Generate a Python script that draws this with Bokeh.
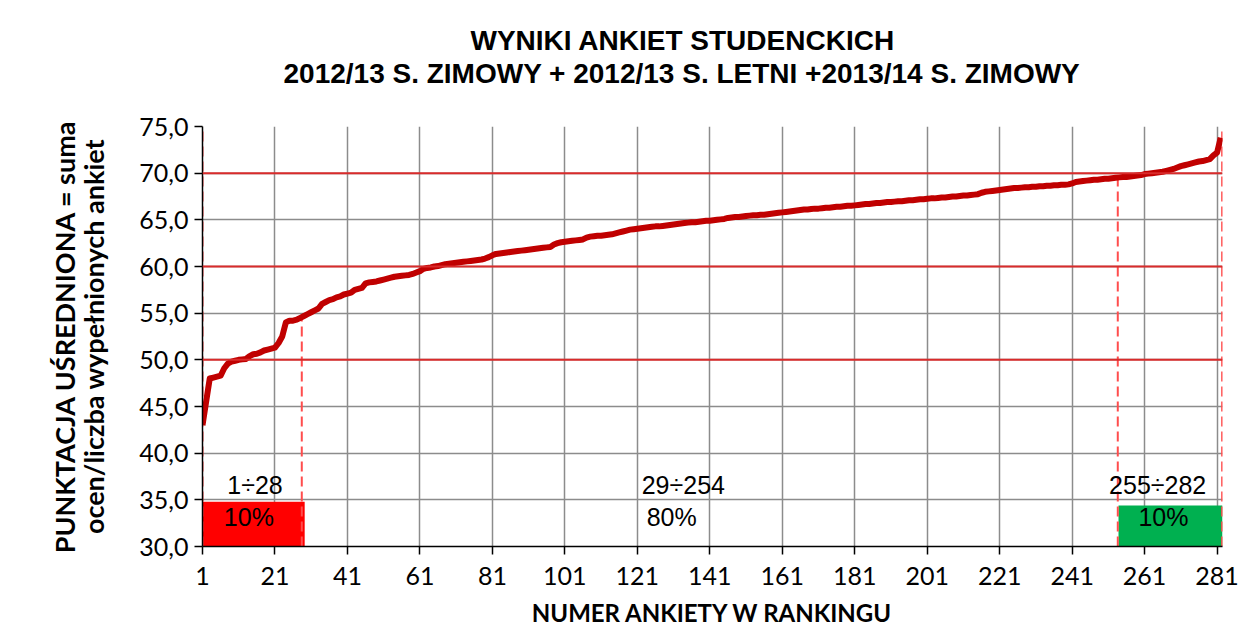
from bokeh.plotting import figure
from bokeh.models import Range1d, FixedTicker, Span, Label, Title, LinearAxis, BoxAnnotation
from bokeh.embed import file_html
from bokeh.resources import INLINE

# ---- data ----
scores = [
    43.0, 45.5, 48.0, 48.1, 48.2, 48.3, 49.1, 49.6, 49.8, 49.9,
    50.0, 50.05, 50.1, 50.4, 50.6, 50.65, 50.8, 51.0, 51.1, 51.2,
    51.3, 51.8, 52.5, 54.0, 54.2, 54.2, 54.3, 54.5, 54.7, 54.9,
    55.1, 55.3, 55.5, 56.0, 56.2, 56.4, 56.5, 56.7, 56.8, 57.0,
    57.1, 57.2, 57.5, 57.6, 57.7, 58.2, 58.3, 58.35, 58.4, 58.5,
    58.6, 58.7, 58.8, 58.9, 58.95, 59.0, 59.05, 59.1, 59.2, 59.35,
    59.5, 59.75, 59.85, 59.9, 60.0, 60.05, 60.15, 60.25, 60.3, 60.35,
    60.4, 60.45, 60.5, 60.55, 60.6, 60.65, 60.7, 60.75, 60.85, 61.0,
    61.2, 61.35, 61.4, 61.45, 61.5, 61.55, 61.6, 61.65, 61.7, 61.75,
    61.8, 61.85, 61.9, 61.95, 62.0, 62.05, 62.1, 62.35, 62.5, 62.6,
    62.65, 62.7, 62.75, 62.8, 62.85, 62.9, 63.1, 63.2, 63.25, 63.3,
    63.3, 63.35, 63.4, 63.45, 63.55, 63.65, 63.75, 63.85, 63.95, 64.0,
    64.05, 64.1, 64.15, 64.2, 64.25, 64.3, 64.3, 64.35, 64.4, 64.45,
    64.5, 64.55, 64.6, 64.65, 64.7, 64.75, 64.75, 64.8, 64.85, 64.9,
    64.9, 64.95, 65.0, 65.05, 65.1, 65.2, 65.25, 65.3, 65.3, 65.35,
    65.4, 65.45, 65.5, 65.5, 65.55, 65.55, 65.6, 65.65, 65.7, 65.75,
    65.8, 65.85, 65.9, 65.95, 66.0, 66.05, 66.1, 66.1, 66.15, 66.2,
    66.2, 66.25, 66.3, 66.3, 66.35, 66.4, 66.4, 66.45, 66.5, 66.5,
    66.55, 66.6, 66.65, 66.7, 66.7, 66.75, 66.8, 66.8, 66.85, 66.9,
    66.9, 66.95, 67.0, 67.0, 67.05, 67.1, 67.1, 67.15, 67.2, 67.2,
    67.25, 67.3, 67.3, 67.35, 67.4, 67.4, 67.45, 67.5, 67.5, 67.55,
    67.6, 67.6, 67.65, 67.7, 67.75, 67.9, 68.0, 68.05, 68.1, 68.15,
    68.2, 68.25, 68.3, 68.35, 68.4, 68.4, 68.45, 68.5, 68.5, 68.55,
    68.55, 68.6, 68.6, 68.65, 68.65, 68.7, 68.7, 68.75, 68.75, 68.8,
    68.9, 69.05, 69.1, 69.15, 69.2, 69.25, 69.3, 69.3, 69.35, 69.4,
    69.4, 69.45, 69.5, 69.55, 69.6, 69.6, 69.65, 69.7, 69.75, 69.8,
    69.9, 69.95, 70.0, 70.05, 70.1, 70.15, 70.25, 70.35, 70.45, 70.6,
    70.75, 70.85, 70.95, 71.05, 71.15, 71.25, 71.3, 71.4, 71.5, 71.9,
    72.2, 73.8,
]
rank = list(range(1, len(scores) + 1))

x_ticks = [1, 21, 41, 61, 81, 101, 121, 141, 161, 181, 201, 221, 241, 261, 281]
y_ticks = [30, 35, 40, 45, 50, 55, 60, 65, 70, 75]
y_tick_labels = ["30,0", "35,0", "40,0", "45,0", "50,0", "55,0", "60,0", "65,0", "70,0", "75,0"]
threshold_levels = [50, 60, 70]

group_bounds = [1, 28.4, 253.6, 282.4]
group_ranges = ["1÷28", "29÷254", "255÷282"]
group_shares = ["10%", "80%", "10%"]
box_left = [1, 253.8]
box_right = [29.2, 282.5]
box_top = [34.8, 34.4]
box_colors = ["#FF0000", "#00B050"]

title_lines = ["WYNIKI  ANKIET  STUDENCKICH",
               "2012/13 S. ZIMOWY + 2012/13 S. LETNI +2013/14 S. ZIMOWY"]
y_label_lines = ["PUNKTACJA UŚREDNIONA = suma", "ocen/liczba wypełnionych ankiet"]
x_label = "NUMER ANKIETY W RANKINGU"

# ---- figure ----
p = figure(frame_width=1020, frame_height=420, output_backend="svg", toolbar_location=None,
           x_range=Range1d(1, 282.5), y_range=Range1d(30, 75),
           min_border_left=202, min_border_right=22, min_border_top=126,
           min_border_bottom=60)
p.outline_line_color = None
p.background_fill_color = "white"

GRAY = "#8C8C8C"
TICK_FONT = "Lato"

p.xaxis.ticker = FixedTicker(ticks=x_ticks)
p.yaxis.ticker = FixedTicker(ticks=y_ticks)
p.yaxis.major_label_overrides = {float(t): s for t, s in zip(y_ticks, y_tick_labels)}
for ax in (p.xaxis[0], p.yaxis[0]):
    ax.axis_line_color = "black"
    ax.axis_line_width = 1.5
    ax.major_tick_line_color = "black"
    ax.major_tick_line_width = 1.5
    ax.major_tick_in = 0
    ax.major_tick_out = 8
    ax.minor_tick_line_color = None
    ax.major_label_text_font = TICK_FONT
    ax.major_label_text_font_size = "25px"
    ax.major_label_text_color = "black"
    ax.axis_label_text_font = TICK_FONT
    ax.axis_label_text_font_style = "bold"
    ax.axis_label_text_font_size = "24px"
    ax.axis_label_text_color = "black"
p.yaxis.axis_label_text_font_size = "27px"
p.xaxis.major_label_standoff = 12
p.yaxis.major_label_standoff = 6
p.xaxis.axis_label = x_label
p.xaxis.axis_label_standoff = 10
p.yaxis.axis_label = y_label_lines[1]
p.yaxis.axis_label_standoff = 26

outer_y = LinearAxis(axis_label=y_label_lines[0], ticker=FixedTicker(ticks=[]),
                     axis_line_color=None, major_tick_line_color=None,
                     minor_tick_line_color=None, major_label_text_font_size="0px",
                     axis_label_text_font=TICK_FONT, axis_label_text_font_style="bold",
                     axis_label_text_font_size="27px", axis_label_text_color="black",
                     axis_label_standoff=-6)
p.add_layout(outer_y, "left")

p.xgrid.ticker = FixedTicker(ticks=x_ticks)
p.ygrid.ticker = FixedTicker(ticks=y_ticks)
p.xgrid.grid_line_color = GRAY
p.ygrid.grid_line_color = GRAY
p.xgrid.grid_line_width = 1.5
p.ygrid.grid_line_width = 1.5

for lvl in threshold_levels:
    p.add_layout(Span(location=lvl, dimension="width", line_color="#D92B2B", line_width=2))

# coloured boxes
p.quad(left=box_left, right=box_right, bottom=[30] * len(box_left), top=box_top,
       fill_color=box_colors, line_color=None)

# dashed separators
tops = [75, scores[27], scores[253], 75]
p.segment(x0=group_bounds, y0=[30] * 4, x1=group_bounds, y1=tops,
          line_color="#FF4D4D", line_width=2, line_dash="10 5")

# main curve
p.line(rank, scores, line_color="#C00000", line_width=6, line_join="round")

# group texts
range_x = [15.5, 133.7, 264.6]
share_x = [13.8, 130.5, 266.2]
for gx, txt in zip(range_x, group_ranges):
    p.add_layout(Label(x=gx, y=36.55, text=txt, text_align="center", text_baseline="middle",
                       text_font="Liberation Sans", text_font_size="25px", text_color="black"))
for sx, txt in zip(share_x, group_shares):
    p.add_layout(Label(x=sx, y=33.2, text=txt, text_align="center", text_baseline="middle",
                       text_font="Liberation Sans", text_font_size="25px", text_color="black"))

# two-line title (the first one added sits closest to the plot); a tiny spacer first
spacer = Title(text=" ", text_font_size="2px", standoff=34)
t2 = Title(text=title_lines[1], align="left", offset=81, standoff=0,
           text_font="Liberation Sans", text_font_style="bold", text_font_size="28px",
           text_color="black")
t1 = Title(text=title_lines[0], align="left", offset=268, standoff=0,
           text_font="Liberation Sans", text_font_style="bold", text_font_size="28px",
           text_color="black")
p.add_layout(spacer, "above")
p.add_layout(t2, "above")
p.add_layout(t1, "above")

# chart-area border (top and left edges visible)
p.add_layout(BoxAnnotation(left=4, top=15, right=3000, bottom=3000,
                           left_units="canvas", right_units="canvas",
                           top_units="canvas", bottom_units="canvas",
                           fill_color=None, line_color="#8C8C8C", line_width=1.5))

open("out.html", "w").write(file_html(p, INLINE))
